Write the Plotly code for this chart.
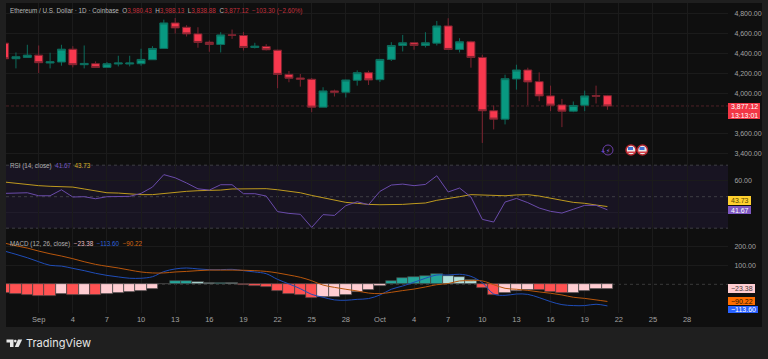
import pandas as pd
import plotly.graph_objects as go

START_DATE = "2025-08-29"
open_ = [4507,4351,4364,4387,4308,4318,4447,4291,4301,4264,4298,4298,4301,4341,4454,4710,4667,4600,4517,4494,4590,4584,4464,4474,4437,4194,4158,4145,3865,4028,4015,4135,4211,4141,4344,4484,4511,4484,4507,4680,4444,4521,4364,3829,3745,4148,4238,4121,3978,3888,3825,3885,3982,3980.43]
high = [4507,4414,4491,4484,4411,4491,4477,4484,4324,4318,4381,4381,4451,4477,4743,4760,4687,4667,4534,4617,4644,4620,4511,4497,4441,4228,4198,4158,4065,4041,4141,4234,4231,4348,4517,4590,4511,4617,4730,4757,4557,4531,4391,3882,4191,4291,4261,4214,4081,3948,3922,4031,4081,3988.13]
low = [4351,4254,4361,4208,4254,4281,4264,4254,4258,4258,4274,4274,4281,4341,4454,4604,4574,4461,4421,4414,4550,4434,4454,4434,4055,4115,4071,3815,3865,3972,3962,4081,4088,4118,4328,4424,4441,4464,4484,4441,4414,4261,3506,3642,3692,4041,3885,3925,3825,3665,3815,3825,3902,3838.88]
close = [4351,4371,4387,4311,4321,4447,4291,4304,4264,4301,4308,4308,4344,4454,4710,4660,4600,4514,4494,4590,4587,4464,4477,4441,4194,4155,4145,3865,4028,4015,4138,4211,4138,4344,4484,4511,4484,4511,4680,4444,4521,4364,3829,3745,4151,4238,4118,3978,3885,3825,3882,3978,3975,3877.12]

rsi = [52.1,52.5,52.5,50.6,50.6,54.4,49.8,50,48.7,50,50.2,50.2,52.1,56.1,64,62,58.7,55,54.2,57.6,57.6,51.9,51.9,50.4,40.5,39.4,38.8,30.5,38.6,38.1,44.3,46.8,44.9,53.4,57.4,58,57,57.8,63.3,53,55.5,49.8,35.6,33.9,46.6,48.9,46.2,42.8,40.7,39.6,42,44.5,44.5,41.67]
rsi_ma = [59.3,58.5,57.6,57,56.6,56.3,56.1,54.9,53.6,52.5,52.3,51.7,51.3,51.3,52.1,53,53.4,53.8,54,54.2,54.9,55.1,55.1,55.1,54.4,53.6,52.5,50.8,49.2,47.7,46.4,45.8,45.1,44.9,44.9,45.1,45.6,46,47.7,48.7,50,51.3,51.1,50.6,50.6,51.1,51.3,50.4,48.9,47.7,46.4,45.8,44.7,43.73]

macd = [175,158,140,119,100,96,84,72,58,47,39,32,32,40,67,81,86,81,77,77,79,72,65,56,26,2,-23,-53,-68,-82,-84,-79,-75,-56,-26,-9,11,32,49,49,53,42,9,-51,-58,-51,-53,-70,-91,-107,-112,-112,-105,-113.6]
signal = [217,203,191,175,161,149,135,119,105,95,86,75,65,60,60,65,68,72,75,75,75,74,72,68,60,49,37,19,-4,-16,-26,-35,-46,-49,-42,-33,-25,-14,-2,4,18,19,18,-2,-21,-26,-32,-40,-47,-56,-68,-74,-82,-90.22]
hist = [-44,-51,-56,-61,-61,-53,-56,-54,-54,-51,-47,-42,-35,-23,2,16,18,12,9,9,7,-2,-9,-14,-33,-49,-54,-74,-68,-68,-54,-39,-28,-9,16,32,39,42,53,46,40,23,-21,-54,-46,-33,-30,-32,-42,-47,-44,-35,-26,-23.38]
hist_state = list("RRRRRPRPRPPPPPTTTLLTLRRRRRRRPPPPPPTTTTTLLLRRPPPRRRPPPP")

price_ticks = [3400,3600,4000,4200,4400,4600,4800]
price_hidden_grid = [3800]
rsi_bands = [70,50,30]
rsi_ticks = [60]
rsi_hidden_grid = [40]
macd_ticks = [100,200]
date_tick_vals = ["2025-09-01","2025-09-04","2025-09-07","2025-09-10","2025-09-13","2025-09-16","2025-09-19","2025-09-22","2025-09-25","2025-09-28","2025-10-01","2025-10-04","2025-10-07","2025-10-10","2025-10-13","2025-10-16","2025-10-19","2025-10-22","2025-10-25","2025-10-28"]
date_tick_text = ["Sep","4","7","10","13","16","19","22","25","28","Oct","4","7","10","13","16","19","22","25","28"]

W, H = 768, 359
dates = pd.date_range(START_DATE, periods=len(close), freq="D")
FONT = "Liberation Sans"
TICK = "#a3a3a3"
GRID = "#1b1b1b"
STATE_COLORS = {"R": "#FF5252", "P": "#FFCDD2", "T": "#26A69A", "L": "#B2DFDB"}
X_RANGE = ["2025-08-29 03:00", "2025-10-31 14:24"]
DAY_MS = 86400000

def px(x):
    return x / W
def py(y):
    return 1 - y / H

fig = go.Figure()
fig.add_trace(go.Candlestick(
    x=dates, open=open_, high=high, low=low, close=close, xaxis="x", yaxis="y",
    increasing=dict(line=dict(color="#0d6b5c", width=1), fillcolor="#089981"),
    decreasing=dict(line=dict(color="#7d2430", width=1), fillcolor="#F7384E"),
    whiskerwidth=0, showlegend=False))
fig.add_trace(go.Scatter(x=dates, y=rsi_ma, mode="lines", xaxis="x2", yaxis="y2",
                         line=dict(color="#BE9A1E", width=1), showlegend=False))
fig.add_trace(go.Scatter(x=dates, y=rsi, mode="lines", xaxis="x2", yaxis="y2",
                         line=dict(color="#6A4BAA", width=1), showlegend=False))
fig.add_trace(go.Bar(x=dates, y=hist, xaxis="x3", yaxis="y3", width=DAY_MS,
                     marker=dict(color=[STATE_COLORS[s] for s in hist_state],
                                 line=dict(color="#444444", width=0.7)),
                     showlegend=False))
fig.add_trace(go.Scatter(x=dates, y=macd, mode="lines", xaxis="x3", yaxis="y3",
                         line=dict(color="#1F4DB8", width=1, shape="spline"), showlegend=False))
fig.add_trace(go.Scatter(x=dates, y=signal, mode="lines", xaxis="x3", yaxis="y3",
                         line=dict(color="#B8560C", width=1, shape="spline"), showlegend=False))

dom_x = [px(6), px(728)]
common_x = dict(range=X_RANGE, type="date", domain=dom_x, showgrid=True, gridcolor=GRID, gridwidth=1,
                tickvals=date_tick_vals, zeroline=False, showline=False, fixedrange=True)
common_y = dict(side="right", showline=False, zeroline=False, showgrid=True, gridcolor=GRID,
                ticks="outside", ticklen=4, tickcolor="rgba(0,0,0,0)", fixedrange=True,
                tickfont=dict(family=FONT, size=7, color=TICK), tickformat=",.2f")

shapes = [
    dict(type="rect", xref="paper", yref="paper", x0=px(6), x1=px(762), y0=py(327), y1=py(3),
         fillcolor="#0f0f0f", line=dict(width=0), layer="below"),
    dict(type="rect", xref="x2 domain", yref="y2", x0=0, x1=1, y0=rsi_bands[2], y1=rsi_bands[0],
         fillcolor="#181422", line=dict(width=0), layer="below"),
]
for b in rsi_bands:
    shapes.append(dict(type="line", xref="x2 domain", yref="y2", x0=0, x1=1, y0=b, y1=b,
                       line=dict(color="#3e3e44", width=1, dash="3px,3px"), layer="below"))
for g in price_hidden_grid:
    shapes.append(dict(type="line", xref="x domain", yref="y", x0=0, x1=1, y0=g, y1=g,
                       line=dict(color=GRID, width=1), layer="below"))
for g in rsi_hidden_grid:
    shapes.append(dict(type="line", xref="x2 domain", yref="y2", x0=0, x1=1, y0=g, y1=g,
                       line=dict(color="#221e2c", width=1), layer="below"))
shapes.append(dict(type="line", xref="x domain", yref="y", x0=0, x1=1, y0=close[-1], y1=close[-1],
                   line=dict(color="#4f2027", width=1, dash="3px,2px"), layer="below"))
shapes.append(dict(type="line", xref="x3 domain", yref="y3", x0=0, x1=1, y0=0, y1=0,
                   line=dict(color="#3a3a3a", width=1, dash="3px,3px"), layer="below"))

annotations = []
def text(x, y, s, size=8, color=TICK, anchor="left", fam=FONT):
    annotations.append(dict(xref="paper", yref="paper", x=px(x), y=py(y), text=s, showarrow=False,
                            xanchor=anchor, yanchor="middle", align="left",
                            font=dict(family=fam, size=size, color=color),
                            borderpad=0, borderwidth=0))
def badge(x0, x1, y0, y1, color, lines, tcolor="#ffffff", size=7):
    shapes.append(dict(type="rect", xref="paper", yref="paper", x0=px(x0), x1=px(x1), y0=py(y1), y1=py(y0),
                       fillcolor=color, line=dict(width=0)))
    text((x0 + x1) / 2, (y0 + y1) / 2, lines, size=size, color=tcolor, anchor="center")

badge(728, 760, 103, 119, "#F23645", "3,877.12<br>13:13:01", size=7)
badge(728, 751, 196, 205, "#FFD02E", "43.73", tcolor="#5a4a00")
badge(728, 751, 206, 214, "#7E57C2", "41.67")
badge(728, 755, 284, 293, "#FFCDD2", "−23.38", tcolor="#4a3a3a")
badge(728, 755, 297, 305, "#FF6D00", "−90.22", tcolor="#2a1500")
badge(728, 758, 306, 313, "#2962FF", "−113.60")

RED = "#C2303D"
text(10, 10.5, ("<span style='color:#b8b8b8'>Ethereum / U.S. Dollar · 1D · Coinbase</span>"
                f"  <span style='color:#b8b8b8'>O</span><span style='color:{RED}'>3,980.43</span>"
                f"  <span style='color:#b8b8b8'>H</span><span style='color:{RED}'>3,988.13</span>"
                f"  <span style='color:#b8b8b8'>L</span><span style='color:{RED}'>3,838.88</span>"
                f"  <span style='color:#b8b8b8'>C</span><span style='color:{RED}'>3,877.12</span>"
                f"  <span style='color:{RED}'>−103.30 (−2.60%)</span>"), size=6.3)
text(10, 165.7, ("<span style='color:#b0b0b0'>RSI (14, close)</span>  <span style='color:#7458C0'>41.67</span>"
                 "  <span style='color:#D9B22C'>43.73</span>"), size=6.3)
text(10, 243.5, ("<span style='color:#b0b0b0'>MACD (12, 26, close)</span>  <span style='color:#E8BFC4'>−23.38</span>"
                 "  <span style='color:#2F63DC'>−113.60</span>  <span style='color:#D86A12'>−90.22</span>"), size=6.3)

# event icons
shapes.append(dict(type="circle", xref="paper", yref="paper", x0=px(603), x1=px(613), y0=py(155), y1=py(145),
                   fillcolor="rgba(0,0,0,0)", line=dict(color="#6B3FA8", width=1)))
text(608, 150, "⚡", size=6, color="#9a6ae0", anchor="center", fam="DejaVu Sans")
text(602.5, 151.5, "+", size=7, color="#7a4fe0", anchor="center")
for cx in (631, 642.5):
    shapes.append(dict(type="circle", xref="paper", yref="paper", x0=px(cx - 5), x1=px(cx + 5),
                       y0=py(155), y1=py(145), fillcolor="#e8e8e8", line=dict(color="#B0242C", width=1.5)))
    shapes.append(dict(type="rect", xref="paper", yref="paper", x0=px(cx - 3), x1=px(cx + 2),
                       y0=py(150), y1=py(147), fillcolor="#3F6FD0", line=dict(width=0)))
    shapes.append(dict(type="rect", xref="paper", yref="paper", x0=px(cx - 4), x1=px(cx + 4),
                       y0=py(153), y1=py(151.5), fillcolor="#D8404A", line=dict(width=0)))

# TradingView logo
def logo_path(points):
    return "M " + " L ".join(f"{px(a)} {py(b)}" for a, b in points) + " Z"
shapes.append(dict(type="path", xref="paper", yref="paper", fillcolor="#E6E6E6", line=dict(width=0),
                   path=logo_path([(6.5, 339.5), (13.5, 339.5), (13.5, 347), (10, 347), (10, 342.6), (6.5, 342.6)])))
shapes.append(dict(type="circle", xref="paper", yref="paper", x0=px(14), x1=px(16.6), y0=py(342.4), y1=py(339.7),
                   fillcolor="#E6E6E6", line=dict(width=0)))
shapes.append(dict(type="path", xref="paper", yref="paper", fillcolor="#E6E6E6", line=dict(width=0),
                   path=logo_path([(18, 339.5), (22.2, 339.5), (18.6, 347), (14.8, 347)])))
text(26, 343.2, "TradingView", size=11, color="#E6E6E6", fam="Inter")

fig.update_layout(
    width=W, height=H, autosize=False, margin=dict(l=0, r=0, t=0, b=0, pad=0),
    paper_bgcolor="#1f1f1f", plot_bgcolor="rgba(0,0,0,0)", showlegend=False, bargap=0, boxgap=0,
    font=dict(family=FONT),
    xaxis=dict(common_x, anchor="y", showticklabels=False, rangeslider=dict(visible=False)),
    xaxis2=dict(common_x, anchor="y2", showticklabels=False),
    xaxis3=dict(common_x, anchor="y3", ticktext=date_tick_text, ticks="", ticklen=0,
                tickangle=0, tickfont=dict(family=FONT, size=7.5, color=TICK)),
    yaxis=dict(common_y, anchor="x", domain=[py(163), py(3)], range=[3305, 4910], tickvals=price_ticks),
    yaxis2=dict(common_y, anchor="x2", domain=[py(234), py(163)], range=[26.3, 71.4], tickvals=rsi_ticks),
    yaxis3=dict(common_y, anchor="x3", domain=[py(313), py(234)], range=[-151, 265], tickvals=macd_ticks),
    shapes=shapes, annotations=annotations,
)

fig.write_html("out.html", config={"displayModeBar": False},
               post_script="document.body.style.margin='0';document.body.style.overflow='hidden';")
